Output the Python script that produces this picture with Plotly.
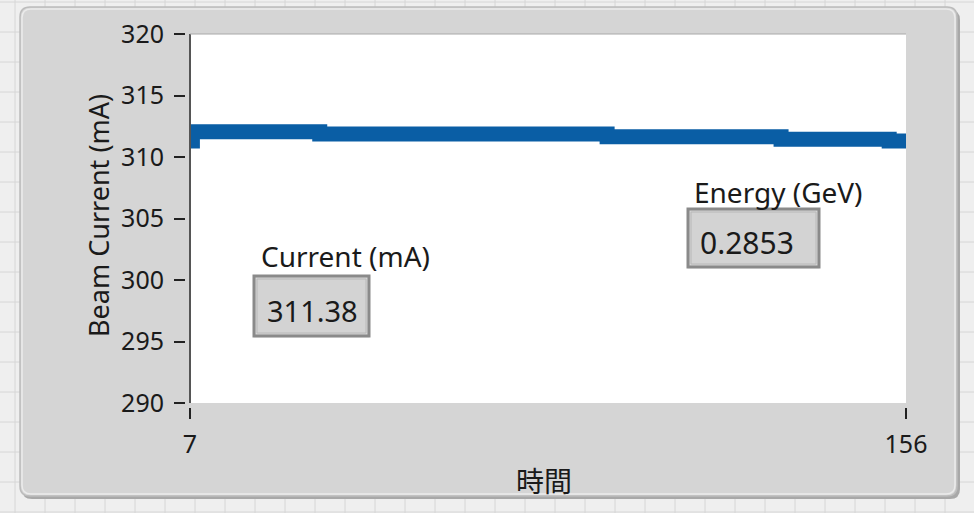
import plotly.graph_objects as go

# ---- data ----
time_x = [7, 7.5, 34, 93.8, 130, 152.5, 156]
beam_current = [311.3, 312.05, 311.88, 311.64, 311.44, 311.31, 311.31]
y_ticks = [290, 295, 300, 305, 310, 315, 320]
x_ticks = [7, 156]
x_tick_labels = ["7", "156"]
current_value = "311.38"
energy_value = "0.2853"

W, H = 974, 513
FONT = "Noto Sans, Noto Sans CJK JP, sans-serif"
CJK = "Noto Sans CJK JP, Noto Sans, sans-serif"


def px(x):
    return x / W


def py(y):
    return 1 - y / H


PL, PR, PT, PB = 190, 906, 34, 403

fig = go.Figure()
fig.add_trace(go.Scatter(
    x=time_x, y=beam_current, mode="lines",
    line=dict(color="#0a5ea5", width=15, shape="hv"),
    hoverinfo="skip", showlegend=False,
))

shapes = []
# background grid pattern (front panel)
for gx in range(15, W, 30):
    shapes.append(dict(type="line", xref="paper", yref="paper", layer="below",
                       x0=px(gx), x1=px(gx), y0=0, y1=1,
                       line=dict(color="#d6d6d6", width=1)))
for gy in range(2, H, 30):
    shapes.append(dict(type="line", xref="paper", yref="paper", layer="below",
                       x0=0, x1=1, y0=py(gy), y1=py(gy),
                       line=dict(color="#d6d6d6", width=1)))


def rrect(x0, y0, x1, y1, r):
    pts = [
        f"M{px(x0 + r)},{py(y0)}",
        f"L{px(x1 - r)},{py(y0)}",
        f"Q{px(x1)},{py(y0)} {px(x1)},{py(y0 + r)}",
        f"L{px(x1)},{py(y1 - r)}",
        f"Q{px(x1)},{py(y1)} {px(x1 - r)},{py(y1)}",
        f"L{px(x0 + r)},{py(y1)}",
        f"Q{px(x0)},{py(y1)} {px(x0)},{py(y1 - r)}",
        f"L{px(x0)},{py(y0 + r)}",
        f"Q{px(x0)},{py(y0)} {px(x0 + r)},{py(y0)}",
        "Z",
    ]
    return " ".join(pts)


# panel shadow + panel
shapes.append(dict(type="path", xref="paper", yref="paper", layer="below",
                   path=rrect(22, 10, 960, 499, 10), fillcolor="#a8a8a8",
                   line=dict(width=0)))
shapes.append(dict(type="path", xref="paper", yref="paper", layer="below",
                   path=rrect(20, 7, 957, 496, 10), fillcolor="#d5d5d5",
                   line=dict(color="#bcbcbc", width=1.5)))
shapes.append(dict(type="path", xref="paper", yref="paper", layer="below",
                   path=rrect(22, 9, 955, 494, 9), fillcolor="rgba(0,0,0,0)",
                   line=dict(color="#ebebeb", width=1.5)))
# white plotting area
shapes.append(dict(type="rect", xref="paper", yref="paper", layer="below",
                   x0=px(PL), x1=px(PR), y0=py(PB), y1=py(PT),
                   fillcolor="#ffffff", line=dict(width=0)))

# plot frame lines
shapes.append(dict(type="line", xref="paper", yref="paper", layer="above",
                   x0=px(PL), x1=px(PL), y0=py(PT), y1=py(PB),
                   line=dict(color="#555555", width=2)))
shapes.append(dict(type="line", xref="paper", yref="paper", layer="above",
                   x0=px(PL), x1=px(PR), y0=py(PT), y1=py(PT),
                   line=dict(color="#a8a8a8", width=1)))


def indicator(x0, y0, x1, y1):
    return [
        dict(type="line", xref="paper", yref="paper", layer="above",
             x0=px(x0), x1=px(x1), y0=py(y1 + 1), y1=py(y1 + 1),
             line=dict(color="#f4f4f4", width=2)),
        dict(type="rect", xref="paper", yref="paper", layer="above",
             x0=px(x0), x1=px(x1), y0=py(y0), y1=py(y1),
             fillcolor="#d3d3d3", line=dict(color="#8a8a8a", width=3)),
        dict(type="rect", xref="paper", yref="paper", layer="above",
             x0=px(x0 + 3), x1=px(x1 - 3), y0=py(y0 + 3), y1=py(y1 - 3),
             fillcolor="rgba(0,0,0,0)", line=dict(color="#b8b8b8", width=1)),
    ]


shapes += indicator(254, 276, 369, 336)
shapes += indicator(688, 209, 819, 267)

annotations = [
    dict(text="Current (mA)", x=px(259), y=py(256), xref="paper", yref="paper",
         xanchor="left", yanchor="middle", showarrow=False,
         font=dict(family=FONT, size=28, color="#1a1a1a")),
    dict(text=current_value, x=px(265), y=py(310), xref="paper", yref="paper",
         xanchor="left", yanchor="middle", showarrow=False,
         font=dict(family=FONT, size=29, color="#1a1a1a")),
    dict(text="Energy (GeV)", x=px(692), y=py(192), xref="paper", yref="paper",
         xanchor="left", yanchor="middle", showarrow=False,
         font=dict(family=FONT, size=28, color="#1a1a1a")),
    dict(text=energy_value, x=px(698), y=py(242), xref="paper", yref="paper",
         xanchor="left", yanchor="middle", showarrow=False,
         font=dict(family=FONT, size=30, color="#1a1a1a")),
    dict(text="Beam Current (mA)", x=px(98), y=py(216), xref="paper", yref="paper",
         xanchor="center", yanchor="middle", showarrow=False, textangle=-90,
         font=dict(family=FONT, size=27, color="#1a1a1a")),
    dict(text="時間", x=px(544), y=py(480), xref="paper", yref="paper",
         xanchor="center", yanchor="middle", showarrow=False,
         font=dict(family=CJK, size=28, color="#1a1a1a")),
]

fig.update_layout(
    width=W, height=H,
    margin=dict(l=0, r=0, t=0, b=0),
    paper_bgcolor="#efefef",
    plot_bgcolor="#ffffff",
    shapes=shapes,
    annotations=annotations,
    showlegend=False,
    xaxis=dict(
        domain=[px(PL), px(PR)], range=[7, 156],
        anchor="free", position=py(407),
        tickmode="array", tickvals=x_ticks, ticktext=x_tick_labels,
        ticks="outside", ticklen=11, tickwidth=2, tickcolor="#222222",
        showgrid=False, zeroline=False, showline=False,
        tickfont=dict(family=FONT, size=25, color="#1a1a1a"),
        ticklabelstandoff=4,
        automargin=False, fixedrange=True,
    ),
    yaxis=dict(
        domain=[py(PB), py(PT)], range=[290, 320],
        anchor="free", position=px(185),
        tickmode="array", tickvals=y_ticks,
        ticks="outside", ticklen=11, tickwidth=2, tickcolor="#222222",
        showgrid=False, zeroline=False, showline=False,
        tickfont=dict(family=FONT, size=25, color="#1a1a1a"),
        ticklabelstandoff=5,
        automargin=False, fixedrange=True,
    ),
)

fig.write_html("out.html", config={"displayModeBar": False},
               post_script="document.body.style.margin='0';")
